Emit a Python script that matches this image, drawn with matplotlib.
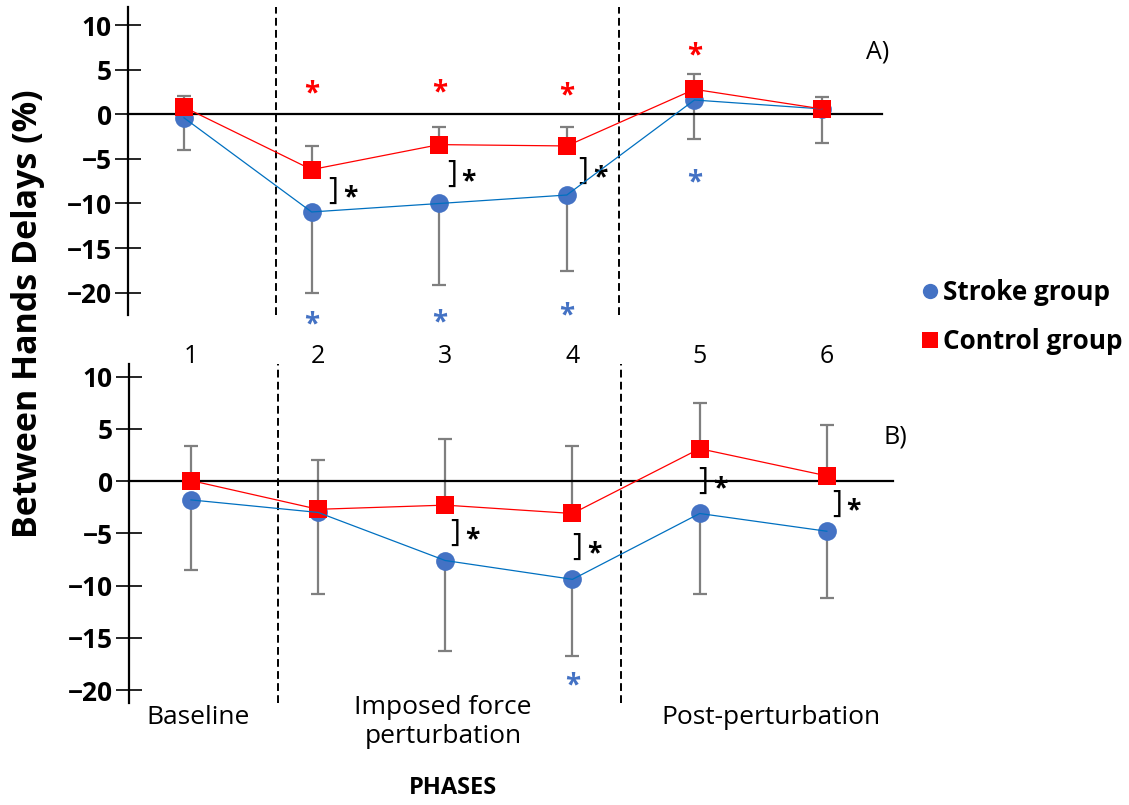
import matplotlib
matplotlib.use("Agg")
import matplotlib.pyplot as plt
from matplotlib.lines import Line2D

plt.rcParams['font.family'] = ['Open Sans', 'DejaVu Sans']

##############
## data (mean and one-sided error bars)
##############
phases = [1, 2, 3, 4, 5, 6]
phase_names = ['Baseline', 'Imposed force\nperturbation', 'Post-perturbation']

# panel A
stroke_a = [-0.4, -10.95, -10.0, -9.05, 1.6, 0.6]
stroke_a_err = [3.6, 9.05, 9.1, 8.55, 4.4, 3.85]
control_a = [0.8, -6.2, -3.4, -3.55, 2.8, 0.6]
control_a_err = [1.3, 2.7, 2.0, 2.15, 1.7, 1.3]
# significance vs baseline (phase, y of star)
red_stars_a = [(2, 3.1), (3, 3.3), (4, 2.9), (5, 7.4)]
blue_stars_a = [(2, -22.7), (3, -22.5), (4, -21.7), (5, -6.8)]
between_a = [2, 3, 4]  # stroke vs control differences

# panel B
stroke_b = [-1.8, -3.0, -7.6, -9.4, -3.1, -4.8]
stroke_b_err = [6.7, 7.8, 8.7, 7.3, 7.7, 6.4]
control_b = [0.05, -2.7, -2.3, -3.1, 3.1, 0.5]
control_b_err = [3.35, 4.7, 6.3, 6.5, 4.4, 4.9]
red_stars_b = []
blue_stars_b = [(4, -18.9)]
between_b = [3, 4, 5, 6]

BLUE = '#4472C4'
BLUE_LINE = '#0070C0'
RED = '#FF0000'
GREY = '#7F7F7F'

W, H = 1129, 805
fig = plt.figure(figsize=(W / 100, H / 100), dpi=100)


def px(x, y):
    # pixel position -> figure fraction
    return x / W, 1 - y / H


def star(ax, x, y, color, size, dx=0):
    # asterisk glyph sits high in the line box, so pull it down a bit
    ax.annotate('*', (x, y), xytext=(dx, -0.28 * size), textcoords='offset points',
                color=color, fontsize=size, fontweight='bold',
                ha='center', va='center', annotation_clip=False)


def panel(rect, xlim, ylim, stroke, s_err, control, c_err, red_stars,
          blue_stars, between, bx_off, tag, tag_xy, seps):
    ax = fig.add_axes(rect)
    zeros = [0] * len(phases)
    ax.errorbar(phases, stroke, yerr=[s_err, zeros], fmt='none', ecolor=GREY,
                elinewidth=1.6, capsize=4.7, capthick=1.6, zorder=2)
    ax.errorbar(phases, control, yerr=[zeros, c_err], fmt='none', ecolor=GREY,
                elinewidth=1.6, capsize=4.7, capthick=1.6, zorder=2)
    ax.plot(phases, stroke, 'o', color=BLUE, ms=13.5, mew=0, zorder=3)
    ax.plot(phases, control, 's', color=RED, ms=13.5, mew=0, zorder=3)
    ax.plot(phases, stroke, '-', color=BLUE_LINE, lw=0.9, zorder=4)
    ax.plot(phases, control, '-', color=RED, lw=0.9, zorder=4)

    for xs in seps:
        ax.axvline(xs, color='black', lw=1.4, ls=(0, (4, 2.2)), zorder=1)

    for p, y in red_stars:
        star(ax, p, y, RED, 20)
    for p, y in blue_stars:
        star(ax, p, y, BLUE, 20)
    for p, dx in zip(between, bx_off):
        i = phases.index(p)
        ym = (stroke[i] + control[i]) / 2
        ax.text(p + dx, ym, ']', fontsize=22, ha='center', va='center')
        star(ax, p + dx, ym, 'black', 19, dx=12)

    ax.set_xlim(*xlim)
    ax.set_ylim(*ylim)
    ax.set_xticks([])
    ax.set_yticks(range(-20, 11, 5))
    for lab in ax.get_yticklabels():
        lab.set_fontweight('bold')
    ax.tick_params(axis='y', direction='inout', length=19, width=1.2,
                   labelsize=19, pad=2)
    ax.spines['top'].set_visible(False)
    ax.spines['right'].set_visible(False)
    ax.spines['bottom'].set_position(('data', 0))
    ax.spines['bottom'].set_linewidth(1.6)
    ax.spines['left'].set_linewidth(1.6)
    ax.patch.set_visible(False)
    fig.text(*px(*tag_xy), tag, fontsize=18, ha='left', va='center')
    return ax


ax1 = panel([128 / W, 1 - 315 / H, (882 - 128) / W, (315 - 6.7) / H],
            (0.561, 6.47), (-22.5, 12.06),
            stroke_a, stroke_a_err, control_a, control_a_err,
            red_stars_a, blue_stars_a, between_a, [0.17, 0.1, 0.13],
            'A)', (866, 52), [1.72, 4.41])

ax2 = panel([129 / W, 1 - 702.7 / H, (893 - 129) / W, (702.7 - 364) / H],
            (0.513, 6.52), (-21.2, 11.2),
            stroke_b, stroke_b_err, control_b, control_b_err,
            red_stars_b, blue_stars_b, between_b, [0.08, 0.04, 0.03, 0.08],
            'B)', (884, 437), [1.684, 4.38])

# phase numbers between the two panels
for p in phases:
    ax2.text(p, 1.021, str(p), transform=ax2.get_xaxis_transform(),
             fontsize=18, ha='center', va='center')

# phase names under the lower panel
fig.text(*px(198, 717), phase_names[0], fontsize=19, ha='center', va='center')
fig.text(*px(443, 722), phase_names[1], fontsize=19, ha='center', va='center',
         linespacing=1.25)
fig.text(*px(771, 717), phase_names[2], fontsize=19, ha='center', va='center')
fig.text(*px(453, 788), 'PHASES', fontsize=17, fontweight='bold',
         ha='center', va='center')

fig.text(*px(28, 314), 'Between Hands Delays (%)', fontsize=24.5,
         fontweight='bold', rotation=90, ha='center', va='center')

handles = [Line2D([], [], ls='none', marker='o', color=BLUE, ms=11, mew=0),
           Line2D([], [], ls='none', marker='s', color=RED, ms=11, mew=0)]
leg = fig.legend(handles, ['Stroke group', 'Control group'],
                 loc='center left', bbox_to_anchor=px(922, 317),
                 frameon=False, handlelength=0.6, handletextpad=0.2,
                 labelspacing=0.85, borderaxespad=0, borderpad=0,
                 prop={'weight': 'bold', 'size': 18.8})

fig.savefig('out.png', dpi=100)
